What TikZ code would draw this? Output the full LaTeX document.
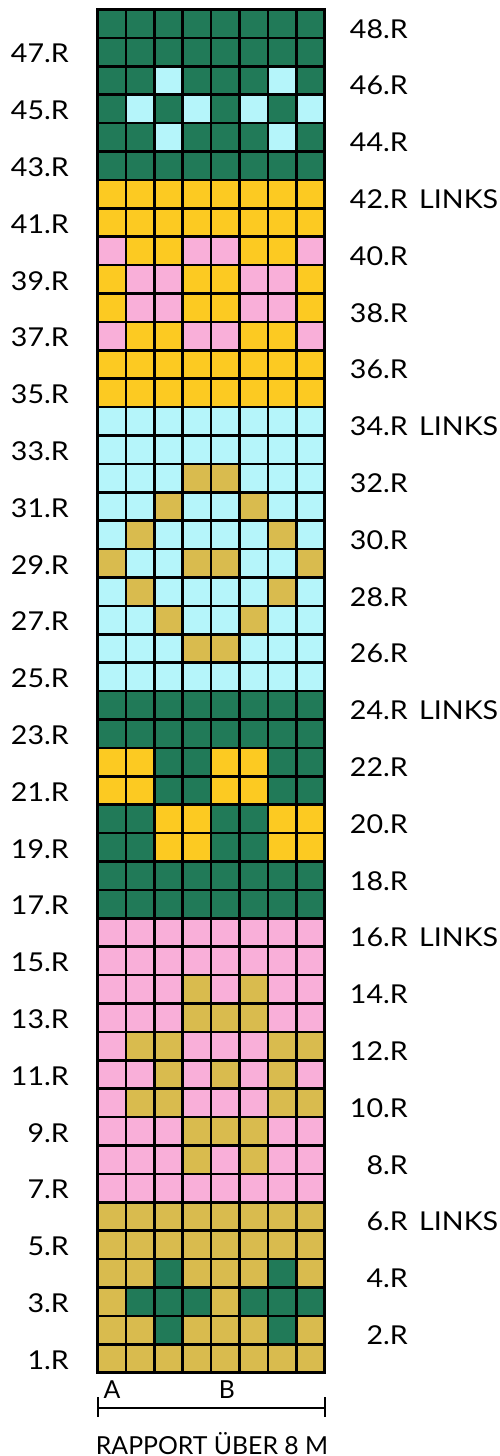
\documentclass[tikz,border=0pt]{standalone}
\usepackage{fontspec}
\setmainfont{Lato}
\newfontfamily\lblfont[FakeStretch=1.1]{Lato}
\definecolor{cG}{HTML}{217A58}
\definecolor{cL}{HTML}{B5F5FA}
\definecolor{cY}{HTML}{FCCA22}
\definecolor{cP}{HTML}{F9AFD9}
\definecolor{cM}{HTML}{D9BB4E}
\tikzset{
  cell/.style={draw=black, line width=2.5pt},
  lbl/.style={inner sep=0pt, font=\lblfont\fontsize{26}{30}\selectfont, text=black},
  btm/.style={inner sep=0pt, font=\fontsize{24.8}{28}\selectfont, text=black},
  bracket/.style={draw=black, line width=2pt}
}
\begin{document}
\begin{tikzpicture}[x=1pt, y={(0pt,-1pt)}]
\useasboundingbox (0,0) rectangle (499,1456);
\def\cs{28.4}
\foreach \r/\cols in {
 48/{G,G,G,G,G,G,G,G}, 47/{G,G,G,G,G,G,G,G}, 46/{G,G,L,G,G,G,L,G}, 45/{G,L,G,L,G,L,G,L},
 44/{G,G,L,G,G,G,L,G}, 43/{G,G,G,G,G,G,G,G}, 42/{Y,Y,Y,Y,Y,Y,Y,Y}, 41/{Y,Y,Y,Y,Y,Y,Y,Y},
 40/{P,Y,Y,P,P,Y,Y,P}, 39/{Y,P,P,Y,Y,P,P,Y}, 38/{Y,P,P,Y,Y,P,P,Y}, 37/{P,Y,Y,P,P,Y,Y,P},
 36/{Y,Y,Y,Y,Y,Y,Y,Y}, 35/{Y,Y,Y,Y,Y,Y,Y,Y}, 34/{L,L,L,L,L,L,L,L}, 33/{L,L,L,L,L,L,L,L},
 32/{L,L,L,M,M,L,L,L}, 31/{L,L,M,L,L,M,L,L}, 30/{L,M,L,L,L,L,M,L}, 29/{M,L,L,M,M,L,L,M},
 28/{L,M,L,L,L,L,M,L}, 27/{L,L,M,L,L,M,L,L}, 26/{L,L,L,M,M,L,L,L}, 25/{L,L,L,L,L,L,L,L},
 24/{G,G,G,G,G,G,G,G}, 23/{G,G,G,G,G,G,G,G}, 22/{Y,Y,G,G,Y,Y,G,G}, 21/{Y,Y,G,G,Y,Y,G,G},
 20/{G,G,Y,Y,G,G,Y,Y}, 19/{G,G,Y,Y,G,G,Y,Y}, 18/{G,G,G,G,G,G,G,G}, 17/{G,G,G,G,G,G,G,G},
 16/{P,P,P,P,P,P,P,P}, 15/{P,P,P,P,P,P,P,P}, 14/{P,P,P,M,P,M,P,P}, 13/{P,P,P,M,M,M,P,P},
 12/{P,M,M,P,P,P,M,M}, 11/{P,P,M,P,M,P,M,P}, 10/{P,M,M,P,P,P,M,M}, 9/{P,P,P,M,M,M,P,P},
 8/{P,P,P,M,P,M,P,P}, 7/{P,P,P,P,P,P,P,P}, 6/{M,M,M,M,M,M,M,M}, 5/{M,M,M,M,M,M,M,M},
 4/{M,M,G,M,M,M,G,M}, 3/{M,G,G,G,M,G,G,G}, 2/{M,M,G,M,M,M,G,M}, 1/{M,M,M,M,M,M,M,M}}
{
  \foreach \c [count=\i] in \cols {
    \filldraw[cell, fill=c\c] ({97.5+(\i-1)*\cs}, {9.5+(48-\r)*\cs}) rectangle ++(\cs,\cs);
  }
}
% left labels (odd rows)
\foreach \r in {1,3,...,47}
  \node[lbl, anchor=east] (L\r) at (69, {9.5+(48-\r)*\cs+0.5*\cs+1.5}) {\r.R};
% right labels (even rows)
\foreach \r in {2,4,...,48}
  \node[lbl, anchor=east] (R\r) at (408, {9.5+(48-\r)*\cs+0.5*\cs+5}) {\r.R};
\foreach \r in {42,34,24,16,6}
  \node[lbl, anchor=base west] (K\r) at ([xshift=11pt]R\r.base east) {LINKS};
% bottom
\node[btm] (A) at (112,1389.5) {A};
\node[btm] (B) at (227,1389.5) {B};
\coordinate (bl) at (97.5,1408);
\coordinate (br) at (324.5,1408);
\coordinate (blt) at (97.5,1397);
\coordinate (blb) at (97.5,1417);
\coordinate (brt) at (324.5,1397);
\coordinate (brb) at (324.5,1417);
\draw[bracket] (bl) -- (br);
\draw[bracket] (blt) -- (blb);
\draw[bracket] (brt) -- (brb);
\node[btm, anchor=base] (rap) at (212,1454) {RAPPORT ÜBER 8 M};
\end{tikzpicture}
\end{document}
